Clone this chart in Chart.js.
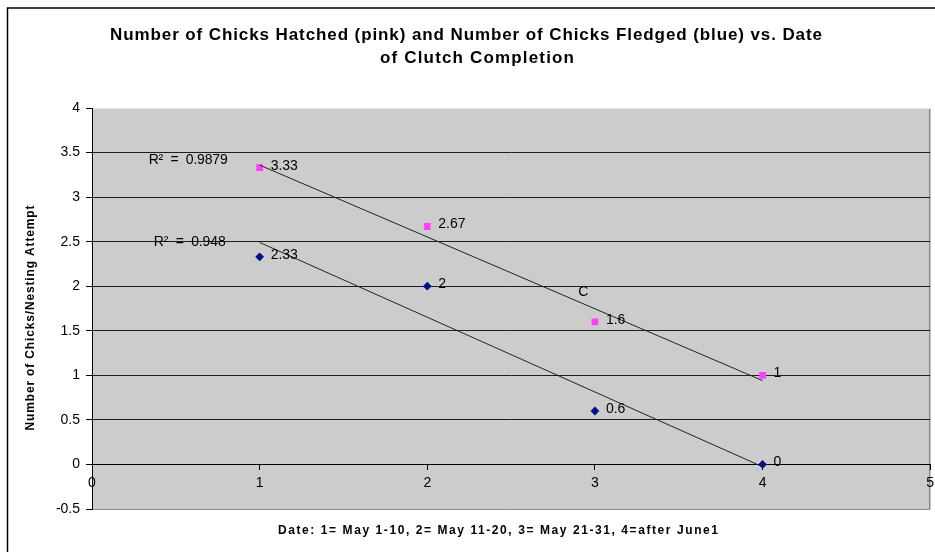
<!DOCTYPE html>
<html>
<head>
<meta charset="utf-8">
<title>Chicks Hatched and Fledged vs. Date of Clutch Completion</title>
<script src="https://cdn.jsdelivr.net/npm/chart.js@4.4.1/dist/chart.umd.min.js"></script>
<style>
  html, body { margin: 0; padding: 0; background: #ffffff; }
  #wrap { position: relative; width: 935px; height: 552px; }
</style>
</head>
<body>
<div id="wrap"><canvas id="chart" width="935" height="552"></canvas></div>
<script>
// Date of clutch completion: 1 = May 1-10, 2 = May 11-20, 3 = May 21-31, 4 = after June 1
const dateCodes = [1, 2, 3, 4];
// Mean number of chicks per nesting attempt
const chicksHatched = [3.33, 2.67, 1.6, 1];
const chicksFledged = [2.33, 2, 0.6, 0];

const xTickValues = [0, 1, 2, 3, 4, 5];
const yTickValues = [-0.5, 0, 0.5, 1, 1.5, 2, 2.5, 3, 3.5, 4];

const titleLines = [
  'Number of Chicks Hatched (pink) and Number of Chicks Fledged (blue) vs. Date',
  'of Clutch Completion'
];
const xAxisTitle = 'Date: 1= May 1-10, 2= May 11-20, 3= May 21-31, 4=after June1';
const yAxisTitle = 'Number of Chicks/Nesting Attempt';
const strayNote = 'C';

const FONT = "'Liberation Sans', Arial, Helvetica, sans-serif";
const PINK = '#ff40ff';
const NAVY = '#00108a';

// Least-squares line through (x, y) plus its coefficient of determination
function linearFit(xs, ys) {
  const n = xs.length;
  const mx = xs.reduce((a, b) => a + b, 0) / n;
  const my = ys.reduce((a, b) => a + b, 0) / n;
  let sxy = 0, sxx = 0, syy = 0;
  for (let i = 0; i < n; i++) {
    sxy += (xs[i] - mx) * (ys[i] - my);
    sxx += (xs[i] - mx) * (xs[i] - mx);
    syy += (ys[i] - my) * (ys[i] - my);
  }
  const slope = sxy / sxx;
  const intercept = my - slope * mx;
  const r2 = (sxy * sxy) / (sxx * syy);
  return { slope, intercept, r2 };
}

const hatchedFit = linearFit(dateCodes, chicksHatched);
const fledgedFit = linearFit(dateCodes, chicksFledged);

function trendPoints(fit) {
  const x0 = dateCodes[0], x1 = dateCodes[dateCodes.length - 1];
  return [
    { x: x0, y: fit.intercept + fit.slope * x0 },
    { x: x1, y: fit.intercept + fit.slope * x1 }
  ];
}

function r2Text(fit) {
  return 'R\u00B2  =  ' + String(Number(fit.r2.toFixed(4)));
}

// Text annotations placed in data coordinates
const notes = [
  { text: r2Text(hatchedFit), x: 0.338, y: 3.41, width: 79, align: 'left' },
  { text: r2Text(fledgedFit), x: 0.368, y: 2.49, width: 72, align: 'left' },
  { text: strayNote, x: 2.93, y: 1.93, width: 0, align: 'center' }
];

function drawSpaced(ctx, text, x, y, width, align) {
  ctx.letterSpacing = '0px';
  const natural = ctx.measureText(text).width;
  let ls = 0;
  if (width > 0 && text.length > 1) ls = (width - natural) / (text.length - 1);
  ctx.letterSpacing = ls + 'px';
  const total = natural + ls * (text.length - 1);
  let left = x;
  if (align === 'center') left = x - total / 2;
  ctx.textAlign = 'left';
  ctx.fillText(text, left, y);
  ctx.letterSpacing = '0px';
}

const decorPlugin = {
  id: 'decor',
  beforeDraw(chart) {
    const { ctx, chartArea: a } = chart;
    ctx.save();
    ctx.fillStyle = '#ffffff';
    ctx.fillRect(0, 0, chart.width, chart.height);
    ctx.fillStyle = '#cccccc';
    ctx.fillRect(a.left, a.top, a.right - a.left, a.bottom - a.top);
    // right edge of plot area
    ctx.strokeStyle = '#8a8a8a';
    ctx.lineWidth = 1.5;
    ctx.beginPath();
    ctx.moveTo(a.right - 0.5, a.top);
    ctx.lineTo(a.right - 0.5, a.bottom);
    ctx.stroke();
    // outer chart frame
    ctx.strokeStyle = '#000000';
    ctx.lineWidth = 1.5;
    ctx.strokeRect(7.5, 8, 2000, 2000);
    ctx.restore();
  },
  afterDraw(chart) {
    const { ctx } = chart;
    const xs = chart.scales.x, ys = chart.scales.y;
    ctx.save();
    ctx.fillStyle = '#000000';
    ctx.textBaseline = 'middle';

    // chart title
    ctx.font = 'bold 17px ' + FONT;
    drawSpaced(ctx, titleLines[0], 466, 35, 712, 'center');
    drawSpaced(ctx, titleLines[1], 477, 58, 194, 'center');

    // axis titles
    ctx.font = 'bold 12px ' + FONT;
    drawSpaced(ctx, xAxisTitle, 498, 531, 440, 'center');
    ctx.save();
    ctx.translate(31, 318);
    ctx.rotate(-Math.PI / 2);
    drawSpaced(ctx, yAxisTitle, 0, 0, 225, 'center');
    ctx.restore();

    // value labels beside the markers
    ctx.font = '14px ' + FONT;
    [0, 1].forEach(di => {
      const meta = chart.getDatasetMeta(di);
      const vals = chart.data.datasets[di].data;
      meta.data.forEach((pt, i) => {
        ctx.textAlign = 'left';
        ctx.fillText(String(vals[i].y), pt.x + 11, pt.y - 2);
      });
    });

    // regression notes
    notes.forEach(n => {
      drawSpaced(ctx, n.text, xs.getPixelForValue(n.x), ys.getPixelForValue(n.y), n.width, n.align);
    });
    ctx.restore();
  }
};

const toPoints = ys => dateCodes.map((x, i) => ({ x, y: ys[i] }));

new Chart(document.getElementById('chart'), {
  type: 'scatter',
  data: {
    datasets: [
      {
        label: 'Chicks hatched',
        data: toPoints(chicksHatched),
        pointStyle: 'rect',
        pointRadius: 4.8,
        pointBackgroundColor: PINK,
        pointBorderColor: PINK,
        pointBorderWidth: 0,
        order: 1
      },
      {
        label: 'Chicks fledged',
        data: toPoints(chicksFledged),
        pointStyle: 'rectRot',
        pointRadius: 4.4,
        pointBackgroundColor: NAVY,
        pointBorderColor: NAVY,
        pointBorderWidth: 0,
        order: 1
      },
      {
        label: 'Linear (hatched)',
        data: trendPoints(hatchedFit),
        showLine: true,
        borderColor: '#222222',
        borderWidth: 1,
        pointRadius: 0,
        order: 0
      },
      {
        label: 'Linear (fledged)',
        data: trendPoints(fledgedFit),
        showLine: true,
        borderColor: '#222222',
        borderWidth: 1,
        pointRadius: 0,
        order: 0
      }
    ]
  },
  options: {
    responsive: false,
    animation: false,
    devicePixelRatio: 1,
    layout: { padding: { top: 108, left: 0, right: 1, bottom: 43 } },
    plugins: {
      legend: { display: false },
      title: { display: false },
      tooltip: { enabled: false }
    },
    scales: {
      x: {
        type: 'linear',
        position: { y: 0 },
        min: 0,
        max: 5,
        afterBuildTicks: s => { s.ticks = xTickValues.map(v => ({ value: v })); },
        afterFit: s => { s.paddingLeft = 0; s.paddingRight = 0; },
        ticks: { color: '#000', font: { family: FONT, size: 14 }, padding: 5, maxRotation: 0, autoSkip: false,
                 callback: v => String(v) },
        grid: { drawOnChartArea: false, drawTicks: true, tickLength: 5, tickColor: '#000', color: '#000' },
        border: { display: true, color: '#000', width: 1 }
      },
      y: {
        type: 'linear',
        position: 'left',
        min: -0.5,
        max: 4,
        afterBuildTicks: s => { s.ticks = yTickValues.map(v => ({ value: v })); },
        afterFit: s => { s.width = 92; },
        ticks: { color: '#000', font: { family: FONT, size: 14 }, padding: 6, autoSkip: false,
                 callback: v => String(v) },
        grid: {
          color: c => (c.tick && c.tick.value === 4) ? '#e6e6e6'
                    : (c.tick && c.tick.value === -0.5) ? '#8a8a8a' : '#1e1e1e',
          tickColor: '#000',
          tickLength: 6,
          lineWidth: 1
        },
        border: { display: true, color: '#000', width: 1 }
      }
    }
  },
  plugins: [decorPlugin]
});
</script>
</body>
</html>
